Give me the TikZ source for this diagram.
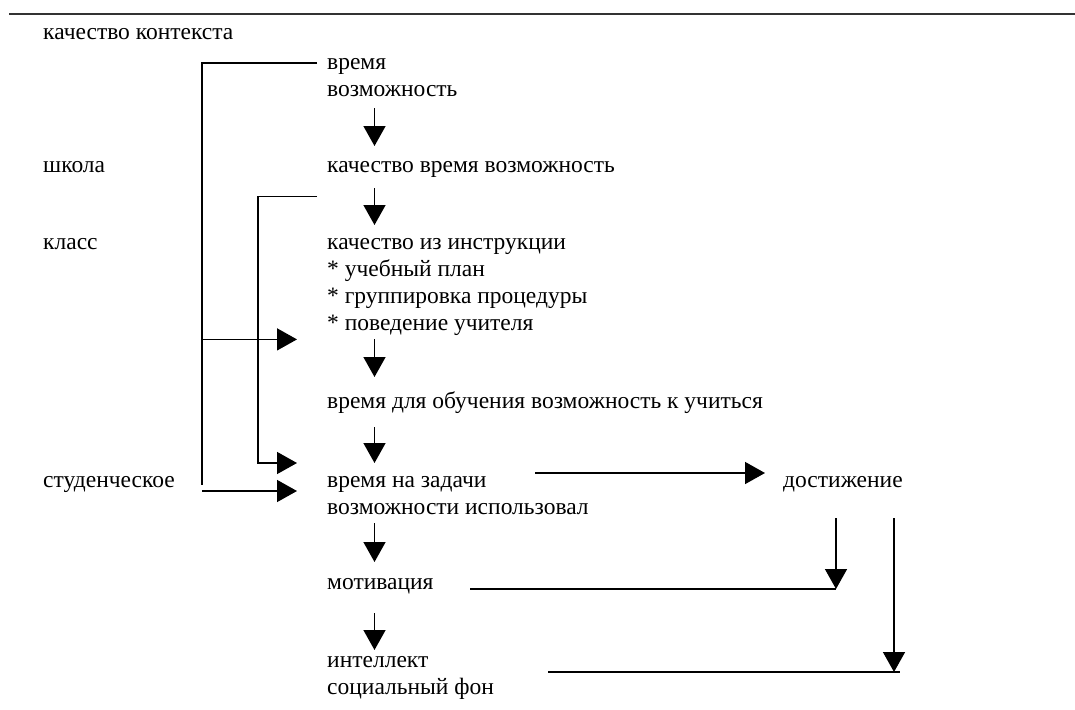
\documentclass[tikz,border=0pt]{standalone}
\usepackage{fontspec}
\setmainfont{Liberation Serif}
\usetikzlibrary{arrows.meta,calc}
\begin{document}
\begin{tikzpicture}[x=1pt,y=-1pt,
  lbl/.style={anchor=north west,inner sep=0pt,align=left,font=\fontsize{23.5}{27}\selectfont},
  conn/.style={line width=1.5pt},
  arr/.style={conn,-{Triangle[width=22pt,length=20pt]}}]
\useasboundingbox (0,0) rectangle (1075,709);
\draw[line width=2.5pt,black!80] (9,14) -- (1075,14);
% axis coordinates
\coordinate (ax) at (374.5,0);
\coordinate (c1) at (202,0);
\coordinate (c2) at (258,0);
\coordinate (tx) at (297,0);
% left labels
\node[lbl] (kk)   at (43,20.6)  {\strut качество контекста};
\node[lbl] (shk)  at (43,153.1) {\strut школа};
\node[lbl] (kls)  at (43,230.1) {\strut класс};
\node[lbl] (stud) at (43,468.6) {\strut студенческое};
% middle column
\node[lbl] (vr)    at (327,50.6)  {\strut время\\\strut возможность};
\node[lbl] (kvv)   at (327,153.1) {\strut качество время возможность};
\node[lbl] (instr) at (327,230.1) {\strut качество из инструкции\\\strut * учебный план\\\strut * группировка процедуры\\\strut * поведение учителя};
\node[lbl] (obuch) at (327,389.6) {\strut время для обучения возможность к учиться};
\node[lbl] (zad)   at (327,468.6) {\strut время на задачи\\\strut возможности использовал};
\node[lbl] (dost)  at (783,468.6) {\strut достижение};
\node[lbl] (mot)   at (327,570.1) {\strut мотивация};
\node[lbl] (intel) at (327,648.6) {\strut интеллект\\\strut социальный фон};
% vertical chain
\draw[arr] ($(vr.south -| ax)+(0,3.4)$) -- ($(kvv.north -| ax)+(0,-7.1)$);
\draw[arr] ($(kvv.south -| ax)+(0,7.9)$) -- ($(instr.north -| ax)+(0,-5.1)$);
\draw[arr] ($(instr.south -| ax)+(0,0.9)$) -- ($(obuch.north -| ax)+(0,-12.6)$);
\draw[arr] ($(obuch.south -| ax)+(0,10.4)$) -- ($(zad.north -| ax)+(0,-5.6)$);
\draw[arr] ($(zad.south -| ax)+(0,0)$) -- ($(mot.north -| ax)+(0,-8.1)$);
\draw[arr] ($(mot.south -| ax)+(0,15.9)$) -- ($(intel.north -| ax)+(0,1.4)$);
% bracket 1 (from time/opportunity)
\draw[conn] ($(vr.north west)+(-10,12.4)$) -| ($(stud.north -| c1)+(0,16.4)$);
\draw[arr] ($(instr.south -| c1)+(0,0.9)$) -- ($(instr.south -| tx)+(0,0.9)$);
% bracket 2 (from quality time opportunity)
\draw[arr] ($(kvv.south west)+(-10,15.9)$) -| ($(zad.north -| c2)+(0,-5.6)$) -- ($(zad.north -| tx)+(0,-5.6)$);
% student
\draw[arr] ($(stud.north -| c1)+(0,22.4)$) -- ($(zad.north -| tx)+(0,22.4)$);
% time on task -> achievement
\draw[arr] ($(zad.north west)+(208,4.4)$) -- ($(dost.north west)+(-18,4.4)$);
% achievement down arrows
\coordinate (d1) at ($(dost.south west)+(53,22.4)$);
\coordinate (d2) at ($(dost.south west)+(111,22.4)$);
\coordinate (m0) at ($(mot.north west)+(143,18.9)$);
\coordinate (i0) at ($(intel.north west)+(221,23.4)$);
\draw[conn] (m0) -- (m0 -| d1);
\draw[arr] (d1) -- (d1 |- m0);
\draw[conn] (i0) -- ($(i0 -| d2)+(6,0)$);
\draw[arr] (d2) -- (d2 |- i0);
\end{tikzpicture}
\end{document}
